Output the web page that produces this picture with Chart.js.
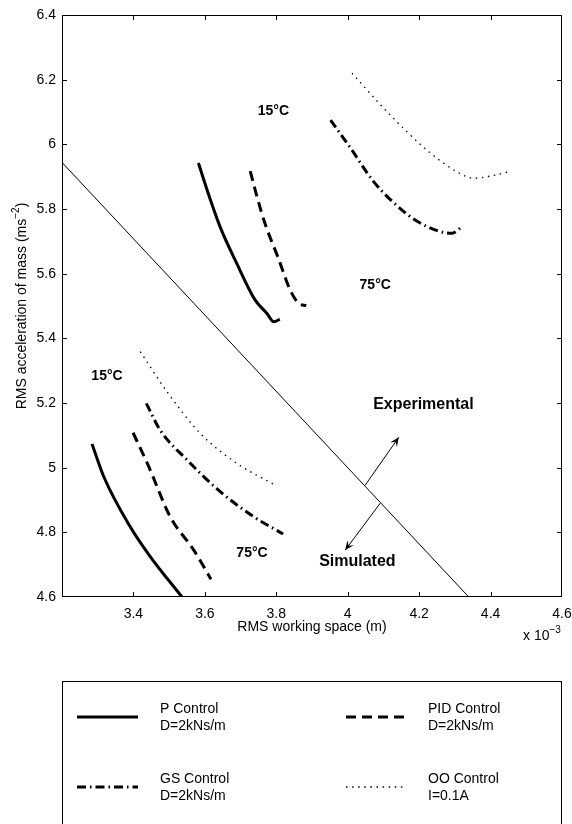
<!DOCTYPE html>
<html>
<head>
<meta charset="utf-8">
<script src="https://cdn.jsdelivr.net/npm/chart.js@4.4.0/dist/chart.umd.min.js"></script>
<style>
  html, body { margin: 0; padding: 0; background: #fff; }
  #wrap { width: 572px; height: 824px; }
</style>
</head>
<body>
<div id="wrap"><canvas id="rmsChart" width="572" height="824"></canvas></div>
<script>
// working space in units of 1e-3 m, acceleration in m/s^2
const xTicks = [3.2, 3.4, 3.6, 3.8, 4.0, 4.2, 4.4, 4.6];
const yTicks = [4.6, 4.8, 5.0, 5.2, 5.4, 5.6, 5.8, 6.0, 6.2, 6.4];

// experimental curves (upper group)
const pExpX = [3.582, 3.612, 3.643, 3.690, 3.741, 3.774, 3.793, 3.810];
const pExpY = [5.942, 5.840, 5.744, 5.630, 5.518, 5.477, 5.451, 5.459];
const pidExpX = [3.727, 3.748, 3.770, 3.805, 3.839, 3.863, 3.884];
const pidExpY = [5.917, 5.830, 5.750, 5.650, 5.549, 5.508, 5.501];
const gsExpX = [3.952, 4.008, 4.073, 4.157, 4.204, 4.260, 4.292, 4.320];
const gsExpY = [6.075, 5.988, 5.884, 5.792, 5.756, 5.730, 5.725, 5.745];
const ooExpX = [4.012, 4.110, 4.222, 4.306, 4.353, 4.400, 4.451];
const ooExpY = [6.220, 6.101, 5.982, 5.915, 5.895, 5.902, 5.915];

// simulated curves (lower group)
const pSimX = [3.284, 3.317, 3.391, 3.447, 3.536];
const pSimY = [5.073, 4.972, 4.817, 4.725, 4.600];
const pidSimX = [3.399, 3.443, 3.503, 3.569, 3.617];
const pidSimY = [5.108, 5.003, 4.848, 4.745, 4.655];
const gsSimX = [3.436, 3.475, 3.550, 3.643, 3.737, 3.819];
const gsSimY = [5.199, 5.116, 5.024, 4.926, 4.848, 4.795];
const ooSimX = [3.419, 3.494, 3.587, 3.690, 3.797];
const ooSimY = [5.359, 5.235, 5.106, 5.013, 4.946];

// line splitting experimental / simulated
const dividerX = [3.2, 4.339];
const dividerY = [5.944, 4.6];

// text and arrows (in data units)
const tempLabels = [['15°C', 3.792, 6.103], ['75°C', 4.077, 5.565], ['15°C', 3.326, 5.283], ['75°C', 3.732, 4.735]];
const regionLabels = [['Experimental', 4.212, 5.194], ['Simulated', 4.027, 4.709]];
const arrows = [[4.049, 4.946, 4.143, 5.094], [4.091, 4.890, 3.993, 4.745]];

const legendItems = [
    ['P Control', 'D=2kNs/m', []],
    ['PID Control', 'D=2kNs/m', [10, 6]],
    ['GS Control', 'D=2kNs/m', [9, 4, 1.5, 4]],
    ['OO Control', 'I=0.1A', [1.5, 4.6]]
];

const FONT = "'Liberation Sans', Arial, Helvetica, sans-serif";

const toPoints = (xs, ys) => xs.map((x, i) => ({ x: x, y: ys[i] }));
const fmt = (v) => String(parseFloat(v.toFixed(1)));

const curve = (xs, ys, width, dash) => ({
    data: toPoints(xs, ys),
    showLine: true,
    borderColor: '#000',
    borderWidth: width,
    borderDash: dash,
    cubicInterpolationMode: 'monotone',
    pointRadius: 0,
    fill: false
});

function drawArrow(ctx, x0, y0, x1, y1) {
    ctx.beginPath();
    ctx.moveTo(x0, y0);
    ctx.lineTo(x1, y1);
    ctx.stroke();
    const a = Math.atan2(y1 - y0, x1 - x0);
    const len = 10, half = 0.42;
    ctx.beginPath();
    ctx.moveTo(x1, y1);
    ctx.lineTo(x1 - len * Math.cos(a - half), y1 - len * Math.sin(a - half));
    ctx.lineTo(x1 - len * 0.55 * Math.cos(a), y1 - len * 0.55 * Math.sin(a));
    ctx.lineTo(x1 - len * Math.cos(a + half), y1 - len * Math.sin(a + half));
    ctx.closePath();
    ctx.fill();
}

// text with a superscript tail, e.g. "(ms" + "-2" + ")"
function supText(ctx, parts, cx, cy, size) {
    const main = size + 'px ' + FONT, sup = Math.round(size * 0.72) + 'px ' + FONT;
    let total = 0;
    parts.forEach(p => { ctx.font = p[1] ? sup : main; total += ctx.measureText(p[0]).width; });
    let x = cx - total / 2;
    ctx.textAlign = 'left';
    ctx.textBaseline = 'middle';
    parts.forEach(p => {
        ctx.font = p[1] ? sup : main;
        ctx.fillText(p[0], x, p[1] ? cy - size * 0.42 : cy);
        x += ctx.measureText(p[0]).width;
    });
}

const figureDecor = {
    id: 'figureDecor',
    afterDraw(chart) {
        const ctx = chart.ctx;
        const area = chart.chartArea;
        const xs = chart.scales.x, ys = chart.scales.y;
        ctx.save();
        ctx.strokeStyle = '#000';
        ctx.fillStyle = '#000';

        // frame and inward ticks
        ctx.lineWidth = 1;
        ctx.strokeRect(area.left + 0.5, area.top + 0.5, area.right - area.left - 1, area.bottom - area.top - 1);
        ctx.beginPath();
        xTicks.slice(1, -1).forEach(v => {
            const px = Math.round(xs.getPixelForValue(v)) + 0.5;
            ctx.moveTo(px, area.bottom); ctx.lineTo(px, area.bottom - 5);
            ctx.moveTo(px, area.top); ctx.lineTo(px, area.top + 5);
        });
        yTicks.slice(1, -1).forEach(v => {
            const py = Math.round(ys.getPixelForValue(v)) + 0.5;
            ctx.moveTo(area.left, py); ctx.lineTo(area.left + 5, py);
            ctx.moveTo(area.right, py); ctx.lineTo(area.right - 5, py);
        });
        ctx.stroke();

        // arrows
        ctx.lineWidth = 1;
        arrows.forEach(a => drawArrow(ctx, xs.getPixelForValue(a[0]), ys.getPixelForValue(a[1]),
            xs.getPixelForValue(a[2]), ys.getPixelForValue(a[3])));

        // labels
        ctx.textAlign = 'center';
        ctx.textBaseline = 'middle';
        ctx.font = 'bold 14px ' + FONT;
        tempLabels.forEach(t => ctx.fillText(t[0], xs.getPixelForValue(t[1]), ys.getPixelForValue(t[2])));
        ctx.font = 'bold 16px ' + FONT;
        regionLabels.forEach(t => ctx.fillText(t[0], xs.getPixelForValue(t[1]), ys.getPixelForValue(t[2])));

        // axis titles
        const midX = (area.left + area.right) / 2;
        ctx.font = '14px ' + FONT;
        ctx.fillText('RMS working space (m)', midX, area.bottom + 30);
        supText(ctx, [['x 10', false], ['\u22123', true]], 542, area.bottom + 39, 14);
        ctx.save();
        ctx.translate(22, (area.top + area.bottom) / 2);
        ctx.rotate(-Math.PI / 2);
        supText(ctx, [['RMS acceleration of mass (ms', false], ['\u22122', true], [')', false]], 0, 0, 14);
        ctx.restore();

        // legend box
        ctx.lineWidth = 1;
        ctx.strokeRect(62.5, 681.5, 499, 200);
        const cols = [[77, 138, 160], [346, 407, 428]];
        const rows = [717, 787];
        legendItems.forEach((item, i) => {
            const c = cols[i % 2], r = rows[Math.floor(i / 2)];
            ctx.save();
            ctx.lineWidth = i === 3 ? 1.3 : 3;
            ctx.setLineDash(item[2]);
            ctx.beginPath();
            ctx.moveTo(c[0], r); ctx.lineTo(c[1], r);
            ctx.stroke();
            ctx.restore();
            ctx.font = '14px ' + FONT;
            ctx.textAlign = 'left';
            ctx.textBaseline = 'middle';
            ctx.fillText(item[0], c[2], r - 8);
            ctx.fillText(item[1], c[2], r + 9);
        });
        ctx.restore();
    }
};

new Chart(document.getElementById('rmsChart'), {
    type: 'scatter',
    data: {
        datasets: [
            curve(dividerX, dividerY, 1, []),
            curve(pExpX, pExpY, 3, []),
            curve(pidExpX, pidExpY, 3, [10, 6]),
            curve(gsExpX, gsExpY, 3, [9, 4, 1.5, 4]),
            curve(ooExpX, ooExpY, 1.3, [1.5, 4.6]),
            curve(pSimX, pSimY, 3, []),
            curve(pidSimX, pidSimY, 3, [10, 6]),
            curve(gsSimX, gsSimY, 3, [9, 4, 1.5, 4]),
            curve(ooSimX, ooSimY, 1.3, [1.5, 4.6])
        ]
    },
    options: {
        responsive: false,
        animation: false,
        layout: { padding: { top: 15, right: 10, bottom: 177, left: 0 } },
        plugins: {
            legend: { display: false },
            tooltip: { enabled: false }
        },
        scales: {
            x: {
                type: 'linear',
                min: 3.2,
                max: 4.6,
                afterFit: (s) => { s.height = 50; s.paddingLeft = 0; s.paddingRight = 0; },
                afterBuildTicks: (s) => { s.ticks = xTicks.map(v => ({ value: v })); },
                grid: { display: false, drawTicks: false },
                border: { display: false },
                ticks: {
                    padding: 9,
                    color: '#000',
                    font: { family: FONT, size: 14 },
                    callback: (v) => v === 3.2 ? '' : fmt(v)
                }
            },
            y: {
                type: 'linear',
                min: 4.6,
                max: 6.4,
                afterFit: (s) => { s.width = 62; s.paddingTop = 0; s.paddingBottom = 0; },
                afterBuildTicks: (s) => { s.ticks = yTicks.map(v => ({ value: v })); },
                grid: { display: false, drawTicks: false },
                border: { display: false },
                ticks: {
                    padding: 6,
                    color: '#000',
                    font: { family: FONT, size: 14 },
                    callback: (v) => fmt(v)
                }
            }
        }
    },
    plugins: [figureDecor]
});
</script>
</body>
</html>
